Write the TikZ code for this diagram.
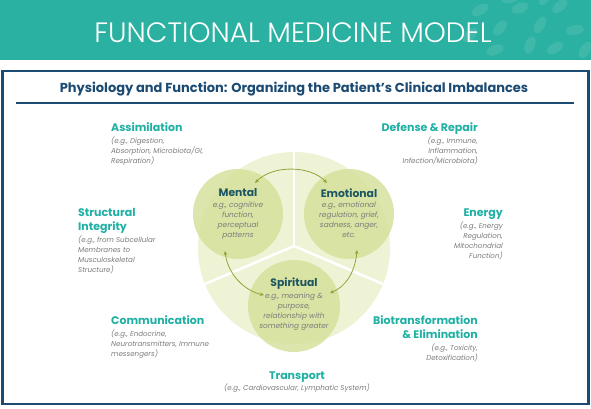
\documentclass[tikz,border=0pt]{standalone}
\usepackage{fontspec}
\setmainfont{Poppins}
\newfontfamily\thinfont{Poppins}[UprightFont={* Light}]
\usetikzlibrary{arrows.meta}
\definecolor{tealband}{HTML}{2AB1A1}
\definecolor{navy}{HTML}{1B4A72}
\definecolor{lbl}{HTML}{1FB0A4}
\definecolor{gtxt}{HTML}{7C7C7C}
\definecolor{dk}{HTML}{1C5663}
\definecolor{pale}{HTML}{EFF3D6}
\definecolor{circ}{HTML}{D4DF97}
\definecolor{arr}{HTML}{8DA63A}
\begin{document}
\begin{tikzpicture}[x=1pt,y=-1pt,
  head/.style={font=\bfseries\fontsize{11}{14}\selectfont, text=lbl, inner sep=0},
  sub/.style={font=\itshape\fontsize{7.1}{9.8}\selectfont, text=gtxt, inner sep=0},
  chead/.style={font=\bfseries\fontsize{10.8}{13}\selectfont, text=dk, inner sep=0},
  csub/.style={font=\itshape\fontsize{7.4}{10}\selectfont, text=gtxt, inner sep=0, align=center},
  bubble/.style={circle, fill=circ, fill opacity=0.8, inner sep=0},
  link/.style={draw=arr, line width=0.8pt, {Stealth[length=4pt,width=3.5pt]}-{Stealth[length=4pt,width=3.5pt]}},
  scale mark/.style={fill=white, fill opacity=0.10}]
\useasboundingbox (0,0) rectangle (591,408);
\fill[white] (0,0) rectangle (591,408);
% header band
\fill[tealband] (0,0) rectangle (591,60);
\foreach \x/\y/\a in {480/10/30, 500/28/50, 520/8/20, 540/25/60, 560/6/40, 575/30/10, 530/45/70, 555/48/30, 585/50/60, 495/50/20, 470/35/45, 510/-2/10, 545/-3/60}
  \fill[scale mark, rotate around={\a:(\x,\y)}] (\x,\y) ellipse (9 and 5);
\node[font=\thinfont\fontsize{28}{32}\selectfont, text=white, inner sep=0] (title) at (293,33) {FUNCTIONAL MEDICINE MODEL};
% frame
\draw[navy, line width=2.5pt] (2.5,71) rectangle (588.5,404);
\node[font=\bfseries\fontsize{13}{15}\selectfont, text=navy, inner sep=0] (subtitle) at (294,89) {Physiology and Function: Organizing the Patient’s Clinical Imbalances};
\draw[navy, line width=2pt] (16,103) -- (574,103);
% central graphic
\coordinate (ctr) at (294,246);
\fill[pale] (294,248) circle (96);
\draw[white, line width=2.5pt] (ctr) -- (294,152);
\draw[white, line width=2.5pt] (ctr) -- (205,284);
\draw[white, line width=2.5pt] (ctr) -- (383,284);
\node[bubble, minimum size=90pt] (mental) at (238,214) {};
\node[bubble, minimum size=90pt] (emotional) at (349,214) {};
\node[bubble, minimum size=92pt] (spiritual) at (294,306) {};
\node[chead] (mentalt) at (238,193) {Mental};
\node[csub, anchor=north] (mentals) at (238,202) {e.g., cognitive\\function,\\perceptual\\patterns};
\node[chead] (emotionalt) at (349,193) {Emotional};
\node[csub, anchor=north] (emotionals) at (349,202) {e.g., emotional\\regulation, grief,\\sadness, anger,\\etc.};
\node[chead] (spiritualt) at (294,284) {Spiritual};
\node[csub, anchor=north] (spirituals) at (294,293) {e.g., meaning \&\\purpose,\\relationship with\\something greater};
% arrows
\coordinate (a1) at (255,183);
\coordinate (a2) at (327,183);
\coordinate (b1) at (225,251);
\coordinate (b2) at (264,295);
\coordinate (c1) at (357,250);
\coordinate (c2) at (330,293);
\draw[link] (a1) .. controls (272,165) and (310,165) .. (a2);
\draw[link] (b1) .. controls (228,275) and (245,291) .. (b2);
\draw[link] (c1) .. controls (355,273) and (345,287) .. (c2);
% outer labels
\node[head, anchor=base west] (assim) at (111,131) {Assimilation};
\node[sub, anchor=north west, align=left] (assims) at (111,137) {(e.g., Digestion,\\Absorption, Microbiota/GI,\\Respiration)};
\node[head, anchor=base east] (defense) at (478,131) {Defense \& Repair};
\node[sub, anchor=north east, align=right] (defenses) at (478,137) {(e.g., Immune,\\Inflammation,\\Infection/Microbiota)};
\node[head, anchor=base west, align=left] (struct) at (78,230) {Structural\\Integrity};
\node[sub, anchor=north west, align=left] (structs) at (78,236) {(e.g., from Subcellular\\Membranes to\\Musculoskeletal\\Structure)};
\node[head, anchor=base east] (energy) at (503,216) {Energy};
\node[sub, anchor=north east, align=right] (energys) at (503,222) {(e.g., Energy\\Regulation,\\Mitochondrial\\Function)};
\node[head, anchor=base west] (comm) at (111,324) {Communication};
\node[sub, anchor=north west, align=left] (comms) at (111,330) {(e.g., Endocrine,\\Neurotransmitters, Immune\\messengers)};
\node[head, anchor=base east, align=right] (bio) at (478,338) {Biotransformation\\\& Elimination};
\node[sub, anchor=north east, align=right] (bios) at (478,344) {(e.g., Toxicity,\\Detoxification)};
\node[head, anchor=base] (transport) at (297,379) {Transport};
\node[sub, anchor=north] (transports) at (297,384) {(e.g., Cardiovascular, Lymphatic System)};
\end{tikzpicture}
\end{document}
